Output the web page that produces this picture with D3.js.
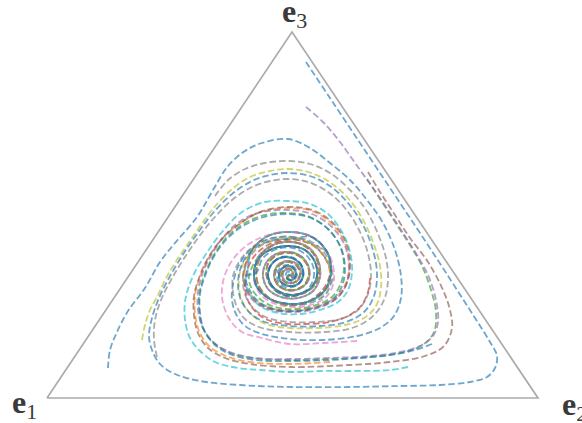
<!DOCTYPE html>
<html>
<head>
<meta charset="utf-8">
<script src="https://cdn.jsdelivr.net/npm/d3@7"></script>
<style>
  body { margin: 0; background: #fff; }
  svg { display: block; }
</style>
</head>
<body>
<svg id="chart"></svg>
<script>
const WIDTH = 582;
const HEIGHT = 423;

// ternary plane in reading units: e1 at origin, e2 along the base, e3 at the apex
const vertexNames = ['1', '2', '3'];
const vertexPos = [[0, 0], [491, 0], [245, 366]];

// inner windings (each ends at the interior rest point)
const tailA = [[200,123],[205,148],[221,162],[243,166],[265,161],[280,146],[284,126],[278,108],[263,97],[243,94],[223,99],[210,111],[207,126],[212,140],[225,149],[242,152],[258,148],[268,136],[270,122],[264,110],[252,104],[238,104],[226,111],[221,122],[224,133],[233,140],[245,140],[254,133],[256,122],[251,114],[242,112],[234,116],[232,124],[237,131],[245,131],[249,124],[245,118],[240,120],[242,123]];
const tailB = [[207,123],[212,142],[226,153],[244,156],[261,151],[271,138],[273,121],[266,107],[251,100],[234,101],[221,109],[216,122],[219,135],[229,144],[243,146],[255,141],[262,130],[261,117],[252,109],[240,108],[230,114],[227,124],[231,133],[240,137],[250,134],[254,125],[250,117],[242,115],[236,120],[237,127],[244,128],[246,122],[242,123]];
const tailC = [[242,90],[223,95],[211,108],[209,125],[216,140],[230,149],[246,150],[260,142],[267,128],[264,113],[253,104],[239,102],[227,109],[221,121],[224,133],[234,141],[247,140],[255,132],[256,120],[249,112],[238,111],[231,117],[231,127],[238,133],[247,131],[250,123],[245,117],[239,120],[240,126],[245,125],[242,122]];
const tailD = [[280,123],[274,106],[258,95],[239,93],[222,100],[211,114],[210,132],[218,147],[234,156],[251,155],[265,146],[272,131],[269,115],[257,105],[242,102],[228,108],[220,120],[221,134],[230,143],[244,145],[256,139],[262,127],[258,114],[247,108],[235,110],[228,119],[230,130],[239,136],[249,133],[253,124],[248,116],[239,115],[234,122],[238,129],[245,128],[246,121],[241,120],[242,124]];

// outer parts of each trajectory, from its starting point
const blueOuter = [[61,30],[63,48],[70,66],[81,87],[98,110],[113,136],[128,155],[150,181],[166,208],[181,232],[198,247],[215,255],[241,259],[263,250],[283,235],[303,218],[320,198],[336,175],[348,148],[354,122],[354,100],[347,82],[333,70],[310,62],[276,58],[243,59],[215,64],[198,72],[189,84],[185,98],[186,114],[191,131],[200,145],[212,155],[226,160],[243,161],[260,157],[273,147],[282,133],[284,117],[279,104],[266,96],[248,93],[230,96],[217,104],[209,114]];
const orangeRun = [[283,36],[243,34],[203,36],[179,42],[162,52],[152,67],[148,85],[148,103],[153,121],[161,139],[174,158],[192,174],[214,186],[241,190],[265,187],[284,175],[297,157],[302,137],[300,118],[291,103],[274,93],[250,88],[228,89],[211,96],[201,108],[197,122]];
const greenRun = [[320,219],[333,199],[348,176],[363,153],[375,132],[384,108],[389,86],[387,66],[377,54],[358,46],[323,41],[283,39],[243,38],[205,40],[181,46],[165,57],[155,72],[152,90],[153,108],[159,127],[168,145],[181,162],[198,175],[218,183],[241,185],[263,181],[281,169],[293,152],[297,133],[294,115],[285,101],[269,93],[248,89],[228,91],[213,99],[204,111],[202,122]];
const redRun = [[323,120],[321,106],[314,92],[301,82],[283,76],[258,74],[241,74],[221,78],[208,87],[200,100],[198,115],[201,130],[209,144],[221,153],[236,158],[252,158],[267,152],[278,140],[283,125]];
const purpleRun = [[259,291],[276,276],[293,256],[313,228],[326,210],[343,185],[358,162],[370,143],[381,123],[389,98],[391,76],[386,62],[375,53],[353,46],[323,42],[283,40],[243,39],[208,40],[183,46],[166,56],[156,70],[151,88],[151,106],[156,126],[165,144],[178,163],[195,178],[215,186],[241,188],[265,184],[285,171],[298,152],[302,132],[299,113],[289,99],[271,90],[248,86],[225,88],[208,96],[199,108]];
const brownRun = [[321,226],[333,206],[348,183],[363,160],[381,136],[396,108],[403,88],[405,70],[397,52],[378,42],[343,36],[303,33],[243,31],[203,34],[178,40],[161,50],[151,65],[147,83],[147,102],[152,120],[160,138],[173,157],[191,173],[213,186],[241,191],[265,188],[285,176],[298,158],[303,138],[301,118],[292,102],[275,92],[251,87],[228,88],[211,95],[200,108],[196,122]];
const pinkRun = [[310,57],[276,55],[243,54],[215,60],[195,66],[183,78],[176,95],[175,110],[179,126],[187,140],[199,152],[213,160],[229,165],[245,166],[263,162],[277,151],[285,136],[287,118],[281,103],[267,94],[248,91],[229,94],[215,102],[208,114]];
const grayRun = [[110,41],[107,58],[108,78],[114,98],[124,118],[136,138],[151,160],[167,180],[185,198],[205,211],[223,217],[241,219],[261,216],[281,206],[298,190],[311,170],[320,148],[324,124],[321,104],[311,88],[293,79],[268,76],[243,76],[221,80],[207,89],[199,101],[196,115],[198,130],[204,143],[215,153],[229,158],[245,159],[261,155]];
const oliveRun = [[95,58],[98,73],[103,88],[110,101],[118,118],[128,135],[145,160],[165,188],[184,208],[203,221],[223,227],[241,229],[261,226],[281,217],[300,201],[315,180],[326,156],[333,132],[334,110],[329,92],[317,80],[298,73],[271,70],[243,70],[219,74],[205,83],[196,95],[192,110],[193,126],[199,139],[209,150],[223,157],[241,160],[258,157],[272,148],[281,134],[283,118],[278,105]];
const cyanRun = [[361,31],[343,28],[303,27],[276,27],[243,26],[213,28],[191,30],[168,36],[153,47],[143,60],[138,78],[138,96],[142,112],[149,128],[159,144],[175,166],[195,186],[218,196],[241,197],[263,194],[281,184],[295,166],[303,146],[305,126],[301,108],[291,96],[273,88],[253,84],[231,85],[213,92],[203,103],[198,116]];
const blueEdgeRun = [[259,336],[283,300],[313,255],[343,210],[373,165],[403,119],[428,80],[443,56],[450,42],[448,30],[440,21],[423,16],[393,13],[353,12],[303,11],[243,11],[193,13],[153,17],[128,24],[113,34],[105,48],[102,62],[105,80],[112,100],[122,120],[135,142],[150,164],[166,185],[185,204],[205,217],[223,223],[241,225],[263,222],[283,212],[301,195],[316,173],[326,148],[330,124],[327,102],[317,86],[299,76],[273,72],[243,72],[218,76],[203,85],[194,98],[191,113],[193,128],[199,141],[211,152],[227,158],[243,159]];
const grayTopRun = [[168,202],[181,218],[198,229],[218,235],[243,237],[263,234],[283,225],[303,208],[319,188],[331,164],[339,140],[341,118],[337,98],[325,81],[305,70],[278,66],[243,66],[215,70],[199,78],[190,91],[186,106],[186,122],[192,136],[202,148],[215,156],[231,161],[247,161],[263,157],[276,147],[284,132],[285,116]];
const blueBottomRun = [[385,54],[368,48],[343,43],[313,40],[283,38],[243,37],[208,38],[183,44],[167,54],[157,68],[153,86],[153,104],[158,122],[166,140],[179,158],[196,172],[217,181],[241,184],[264,180],[282,168],[294,150],[298,130],[295,112],[286,99],[269,91],[248,87],[227,89],[211,97],[202,109],[199,122]];

const palette = d3.schemeCategory10;
const trajectories = [
  { color: palette[0], points: blueOuter.concat(tailB) },
  { color: palette[1], points: orangeRun.concat(tailA.slice(1)) },
  { color: palette[2], points: greenRun.concat(tailB.slice(1)) },
  { color: palette[3], points: redRun.concat(tailD.slice(1)) },
  { color: palette[4], points: purpleRun.concat(tailA) },
  { color: palette[5], points: brownRun.concat(tailA.slice(1)) },
  { color: palette[6], points: pinkRun.concat(tailB) },
  { color: palette[7], points: grayRun.concat(tailA.slice(5)) },
  { color: palette[8], points: oliveRun.concat(tailD.slice(2)) },
  { color: palette[9], points: cyanRun.concat(tailA) },
  { color: palette[0], points: blueEdgeRun.concat(tailA.slice(4)) },
  { color: palette[7], points: grayTopRun.concat(tailD.slice(1)) },
  { color: palette[0], points: blueBottomRun.concat(tailC.slice(3)) },
];

const x = d3.scaleLinear().domain([0, 491]).range([47, 538]);
const y = d3.scaleLinear().domain([0, 366]).range([398, 32]);

const svg = d3.select('#chart')
  .attr('width', WIDTH)
  .attr('height', HEIGHT);

// simplex outline
svg.append('path')
  .attr('d', d3.line().x(d => x(d[0])).y(d => y(d[1]))(vertexPos.concat([vertexPos[0]])))
  .attr('fill', 'none')
  .attr('stroke', '#ababab')
  .attr('stroke-width', 1.7)
  .attr('stroke-linejoin', 'miter');

const line = d3.line()
  .x(d => x(d[0]))
  .y(d => y(d[1]))
  .curve(d3.curveCatmullRom.alpha(0.5));

svg.append('g')
  .selectAll('path')
  .data(trajectories)
  .enter()
  .append('path')
  .attr('d', d => line(d.points))
  .attr('fill', 'none')
  .attr('stroke', d => d.color)
  .attr('stroke-opacity', 0.65)
  .attr('stroke-width', 1.8)
  .attr('stroke-dasharray', '6.5 3');

// vertex labels
const labelOffset = [[-35, 15], [24, 17], [-10, -10]];
const labels = svg.append('g')
  .attr('font-family', '"Liberation Serif", "DejaVu Serif", serif')
  .attr('fill', '#3a3a3a');

vertexNames.forEach((name, i) => {
  const t = labels.append('text')
    .attr('x', x(vertexPos[i][0]) + labelOffset[i][0])
    .attr('y', y(vertexPos[i][1]) + labelOffset[i][1]);
  t.append('tspan')
    .attr('font-size', 32)
    .attr('font-weight', 'bold')
    .text('e');
  t.append('tspan')
    .attr('font-size', 22)
    .attr('dy', 6)
    .text(name);
});
</script>
</body>
</html>
